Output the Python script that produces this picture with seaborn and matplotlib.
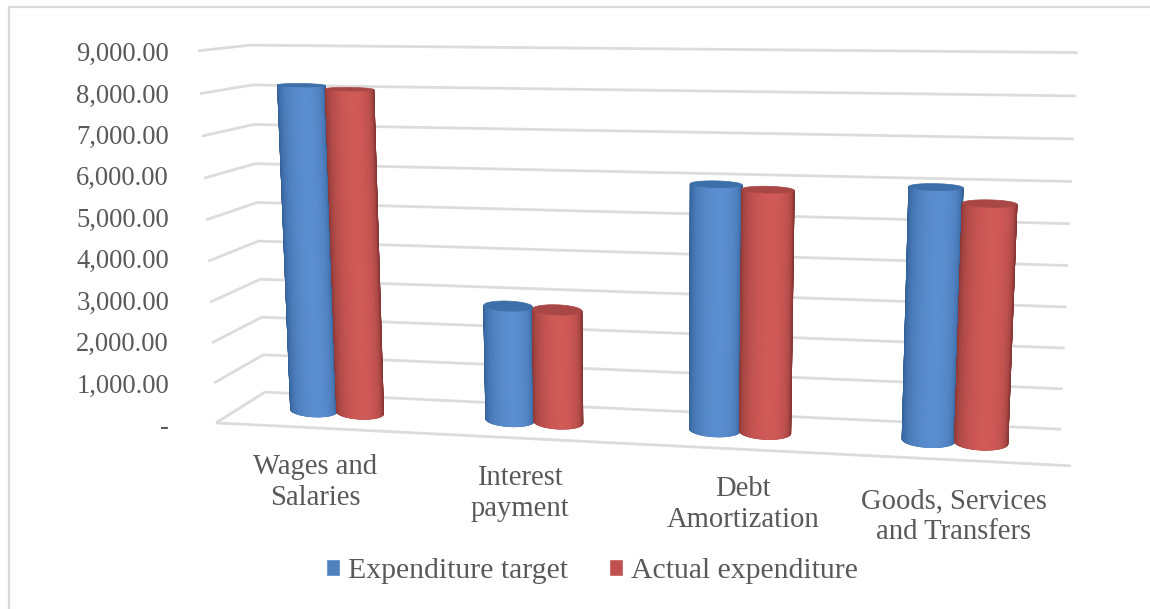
import numpy as np
import pandas as pd
import matplotlib
matplotlib.use("Agg")
import matplotlib.pyplot as plt
from matplotlib.collections import LineCollection, QuadMesh
from matplotlib.colors import LinearSegmentedColormap, Normalize
from matplotlib.patches import Rectangle, Polygon
from matplotlib.transforms import Affine2D, ScaledTranslation
import seaborn as sns

categories = ["Wages and\nSalaries", "Interest\npayment", "Debt\nAmortization", "Goods, Services\nand Transfers"]
series_names = ["Expenditure target", "Actual expenditure"]
target_values = [8120, 2850, 5940, 5990]
actual_values = [8040, 2800, 5840, 5640]
y_ticks = [0, 1000, 2000, 3000, 4000, 5000, 6000, 7000, 8000, 9000]
y_tick_labels = ["-", "1,000.00", "2,000.00", "3,000.00", "4,000.00", "5,000.00",
                 "6,000.00", "7,000.00", "8,000.00", "9,000.00"]

W, H = 1150, 609
sns.set_theme(style="white")
plt.rcParams["font.family"] = ["Liberation Serif", "DejaVu Serif"]
TXT = "#595959"
FS_Y = 19.2
FS_CAT = 20.6
FS_LEG = 21.4

fig = plt.figure(figsize=(W / 100, H / 100), dpi=100, facecolor="white")
ax = fig.add_axes([206.6 / W, 1 - 424.5 / H, (1057 - 206.6) / W, (424.5 - 51.5) / H])
ax.patch.set_alpha(0)

df = pd.DataFrame({
    "category": categories * 2,
    "series": [series_names[0]] * 4 + [series_names[1]] * 4,
    "value": target_values + actual_values,
})
sns.barplot(data=df, x="category", y="value", hue="series", width=0.48, gap=0, saturation=1,
            palette=["#4f81bd", "#c0504d"], ax=ax, errorbar=None)
ax.set_xlabel("")
ax.set_ylabel("")
ax.set_yticks(y_ticks)
ax.set_yticklabels(y_tick_labels)
ax.tick_params(axis="y", length=0, pad=27, labelsize=FS_Y, labelcolor=TXT)
ax.tick_params(axis="x", length=0, pad=21.3, labelsize=FS_CAT, labelcolor=TXT)
for s in ax.spines.values():
    s.set_visible(False)
ax.grid(False)

# category labels follow the slanted floor
label_dx = [2, -6, 5, 3]
label_dy = [0, -11, -22, -34]
for lab, dx, dy in zip(ax.get_xticklabels(), label_dx, label_dy):
    lab.set_linespacing(1.26)
    lab.set_transform(lab.get_transform() + ScaledTranslation(dx / 100, dy / 100, fig.dpi_scale_trans))

handles, labels = ax.get_legend_handles_labels()
leg = ax.legend(handles, labels, ncol=2, loc="center", frameon=False, fontsize=FS_LEG,
                bbox_to_anchor=(592 / W, 1 - 571 / H), bbox_transform=fig.transFigure,
                handlelength=0.47, handleheight=0.54, handletextpad=0.27, columnspacing=1.4,
                labelcolor=TXT, borderpad=0, borderaxespad=0)

# ---- projection of the 3-D chart box on the page (pixel coordinates) ----
box = np.array([
    # u, d, v(0-1)      px, py
    [0, 0, 0, 265, 392], [1, 0, 0, 1061, 429], [0, 0, 1, 250, 45], [1, 0, 1, 1078, 53],
    [0, 1, 0, 216, 423], [1, 1, 0, 1071, 466], [0, 1, 1, 198, 51], [1, 1, 1, 1089, 59],
], float)
A = []
for a, b, c, px, py in box:
    A.append([a, b, c, 1, 0, 0, 0, 0, -px * a, -px * b, -px * c, -px])
    A.append([0, 0, 0, 0, a, b, c, 1, -py * a, -py * b, -py * c, -py])
P = np.linalg.svd(np.array(A))[2][-1].reshape(3, 4)


def project(x, d, v):
    x, d, v = np.broadcast_arrays(np.asarray(x, float), np.asarray(d, float), np.asarray(v, float))
    q = np.stack([(x + 0.5) / 4, d, v / 9000, np.ones_like(x)], axis=-1) @ P.T
    return q[..., :2] / q[..., 2:]


def ring(cx, r, v, angles):
    """Rim of a cylinder at height v: an ellipse following the plane at mid depth."""
    c = project(cx, 0.5, v)
    right = project(cx + r, 0.5, v) - c
    ry = project(cx, 0.5 + RD, v)[1] - c[1]
    return c + np.outer(-np.cos(angles), right) + np.outer(np.sin(angles), [0, ry])


page = Affine2D().scale(1, -1).translate(0, H)
GRID = "#dcdcdc"
segs = []
for v in y_ticks:
    segs.append(project([-0.5, -0.5, 3.5], [1, 0, 0], [v, v, v]))
segs.append(project([-0.5, 3.5], [1, 1], [0, 0]))
ax.add_collection(LineCollection(segs, colors=GRID, linewidths=2.0, transform=page, clip_on=False, zorder=1),
                  autolim=False)

# ---- cylinders built from the bars seaborn drew ----
RD = 0.2
shades = {
    "#4f81bd": ("#2f5c92", "#5b8ed0", "#3d6fa8"),
    "#c0504d": ("#863634", "#d05a57", "#a84745"),
}
bars = [p for p in ax.patches if p.get_width() > 0]
z = 3
for p in sorted(bars, key=lambda b: b.get_x()):
    cx = p.get_x() + p.get_width() / 2
    r = p.get_width() / 2
    v = p.get_height()
    dark, light, cap = shades[matplotlib.colors.to_hex(p.get_facecolor())]
    cmap = LinearSegmentedColormap.from_list("cyl", [dark, light])
    th = np.linspace(0, np.pi, 61)
    bottom = ring(cx, r, 0, th)
    top = ring(cx, r, v, th)
    shade = np.sin(np.pi * (th / np.pi) ** 1.15) ** 0.8
    outline = np.vstack([bottom, top[::-1]])
    ax.add_patch(Polygon(outline, closed=True, facecolor=dark, edgecolor=dark, linewidth=0.6,
                         transform=page, clip_on=False, zorder=z))
    mesh = QuadMesh(np.stack([bottom, top]), shading="gouraud", array=np.vstack([shade, shade]),
                    cmap=cmap, norm=Normalize(0, 1), transform=page, clip_on=False, zorder=z + 0.1)
    ax.add_collection(mesh, autolim=False)
    rim = ring(cx, r, v, np.linspace(0, 2 * np.pi, 90))
    ax.add_patch(Polygon(rim, closed=True, facecolor=cap, edgecolor=cap, linewidth=0.5,
                         transform=page, clip_on=False, zorder=z + 0.5))
    z += 1
    p.set_visible(False)

ax.set_xlim(-0.5, 3.5)
ax.set_ylim(0, 9000)

# frame around the chart
fig.add_artist(Rectangle((9, -20), W + 20, H - 7 + 20, transform=Affine2D(),
                         fill=False, edgecolor="#d9d9d9", linewidth=1.6))

fig.savefig("out.png", dpi=100, facecolor="white")
